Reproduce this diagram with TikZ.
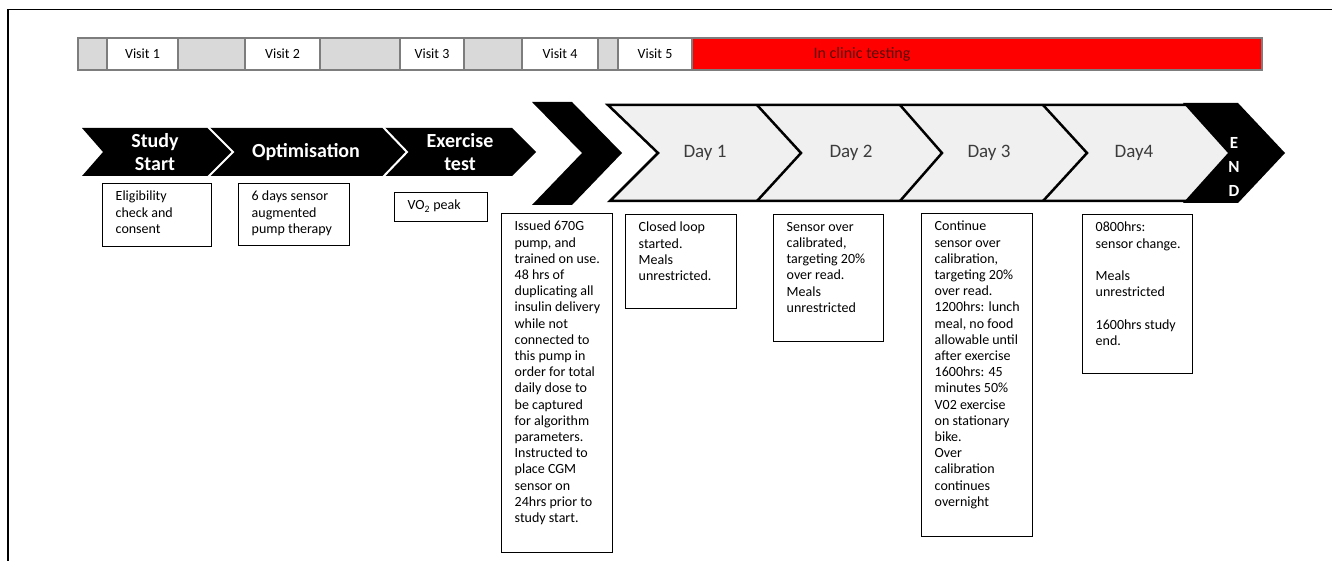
\documentclass[tikz,border=0pt]{standalone}
\usepackage{fontspec}
\setmainfont{Carlito}
\definecolor{barline}{RGB}{125,125,125}
\definecolor{visitgray}{RGB}{217,217,217}
\definecolor{clinicred}{RGB}{255,0,0}
\definecolor{clinictext}{RGB}{90,10,10}
\definecolor{bandgray}{RGB}{240,240,240}
\definecolor{daytext}{RGB}{60,60,60}
\tikzset{
	seg/.style={draw=barline, line width=2.5pt, minimum height=32pt, inner sep=0pt, font=\fontsize{14}{16}\selectfont},
	txtbox/.style={draw=black, line width=1.2pt, anchor=north west, inner sep=0pt},
	txt/.style={anchor=north west, align=left, inner sep=0pt, font=\fontsize{14}{16.2}\selectfont},
	title/.style={text=white, align=center, font=\bfseries\fontsize{20}{23}\selectfont},
	day/.style={text=daytext, font=\fontsize{19}{22}\selectfont},
}
\begin{document}
\begin{tikzpicture}[x=1pt,y=-1pt]
	\useasboundingbox (0,0) rectangle (1332,561);
	\draw[line width=1.5pt] (8,561) -- (8,9.5) -- (1332,9.5);

	\node[seg, fill=visitgray, minimum width=29pt] (g1) at (92.5,54) {};
	\node[seg, fill=white, minimum width=71pt] (visit1) at (142.5,54) {Visit 1};
	\node[seg, fill=visitgray, minimum width=67pt] (g2) at (211.5,54) {};
	\node[seg, fill=white, minimum width=75pt] (visit2) at (282.5,54) {Visit 2};
	\node[seg, fill=visitgray, minimum width=80pt] (g3) at (360,54) {};
	\node[seg, fill=white, minimum width=64pt] (visit3) at (432,54) {Visit 3};
	\node[seg, fill=visitgray, minimum width=58pt] (g4) at (493,54) {};
	\node[seg, fill=white, minimum width=76pt] (visit4) at (560,54) {Visit 4};
	\node[seg, fill=visitgray, minimum width=20pt] (g5) at (608,54) {};
	\node[seg, fill=white, minimum width=74pt] (visit5) at (655,54) {Visit 5};
	\node[seg, fill=clinicred, minimum width=570pt] (clinic) at (977,54) {};
	\node[text=clinictext, font=\fontsize{16}{18}\selectfont] (clinictxt) at (862,54) {In clinic testing};

	\fill[black] (82,128) -- (512,128) -- (536,152) -- (512,176) -- (82,176) -- (103,152) -- cycle;
	\draw[white, line width=2pt] (208,127) -- (233,152) -- (208,177);
	\draw[white, line width=2pt] (383,127) -- (407,152) -- (383,177);
	\node[title] (start) at (155,152) {Study\\Start};
	\node[title] (optim) at (306,152) {Optimisation};
	\node[title] (extest) at (460,152) {Exercise\\test};

	\fill[black] (532,102) -- (572,102) -- (622,153) -- (572,205) -- (532,205) -- (582,153) -- cycle;

	\filldraw[fill=bandgray, draw=black, line width=2.5pt] (608,105) -- (1195,105) -- (1232,153) -- (1195,201) -- (610,201) -- (658,153) -- cycle;
	\draw[line width=2.5pt] (757,105) -- (801,153) -- (757,201);
	\draw[line width=2.5pt] (900,105) -- (942,153) -- (900,201);
	\draw[line width=2.5pt] (1043,105) -- (1087,153) -- (1043,201);
	\fill[black] (1183,103) -- (1238,103) -- (1285,153) -- (1238,203) -- (1183,203) -- (1228,153) -- cycle;
	\node[day] (day1) at (705,153) {Day 1};
	\node[day] (day2) at (851,153) {Day 2};
	\node[day] (day3) at (989,153) {Day 3};
	\node[day] (day4) at (1134,153) {Day4};
	\node[text=white, align=center, font=\bfseries\fontsize{17}{24}\selectfont] (fin) at (1234,167) {E\\N\\D};

	\node[txtbox, minimum width=109pt, minimum height=63pt] (elig) at (102,183) {};
	\node[txt] (eligtext) at ([shift={(13.5,8)}]elig.north west) {Eligibility\\check and\\consent};
	\node[txtbox, minimum width=111pt, minimum height=62pt] (sap) at (238,183) {};
	\node[txt] (saptext) at ([shift={(13.5,8)}]sap.north west) {6 days sensor\\augmented\\pump therapy};
	\node[txtbox, minimum width=93pt, minimum height=29pt] (vo) at (394,192) {};
	\node[txt] (votext) at ([shift={(13.5,8)}]vo.north west) {VO\textsubscript{2} peak};
	\node[txtbox, minimum width=111pt, minimum height=339pt] (issued) at (501,213) {};
	\node[txt] (issuedtext) at ([shift={(13.5,8)}]issued.north west) {Issued 670G\\pump, and\\trained on use.\\48 hrs of\\duplicating all\\insulin delivery\\while not\\connected to\\this pump in\\order for total\\daily dose to\\be captured\\for algorithm\\parameters.\\Instructed to\\place CGM\\sensor on\\24hrs prior to\\study start.};
	\node[txtbox, minimum width=111pt, minimum height=94pt] (closed) at (625,214) {};
	\node[txt] (closedtext) at ([shift={(13.5,8)}]closed.north west) {Closed loop\\started.\\Meals\\unrestricted.};
	\node[txtbox, minimum width=110pt, minimum height=127pt] (overcal) at (773,214) {};
	\node[txt] (overcaltext) at ([shift={(13.5,8)}]overcal.north west) {Sensor over\\calibrated,\\targeting 20\%\\over read.\\Meals\\unrestricted};
	\node[txtbox, minimum width=111pt, minimum height=323pt] (cont) at (921,213) {};
	\node[txt] (conttext) at ([shift={(13.5,8)}]cont.north west) {Continue\\sensor over\\calibration,\\targeting 20\%\\over read.\\1200hrs: lunch\\meal, no food\\allowable until\\after exercise\\1600hrs: 45\\minutes 50\%\\V02 exercise\\on stationary\\bike.\\Over\\calibration\\continues\\overnight};
	\node[txtbox, minimum width=110pt, minimum height=159pt] (last) at (1082,214) {};
	\node[txt] (lasttext) at ([shift={(13.5,8)}]last.north west) {0800hrs:\\sensor change.\\[16.2pt]Meals\\unrestricted\\[16.2pt]1600hrs study\\end.};
\end{tikzpicture}
\end{document}
